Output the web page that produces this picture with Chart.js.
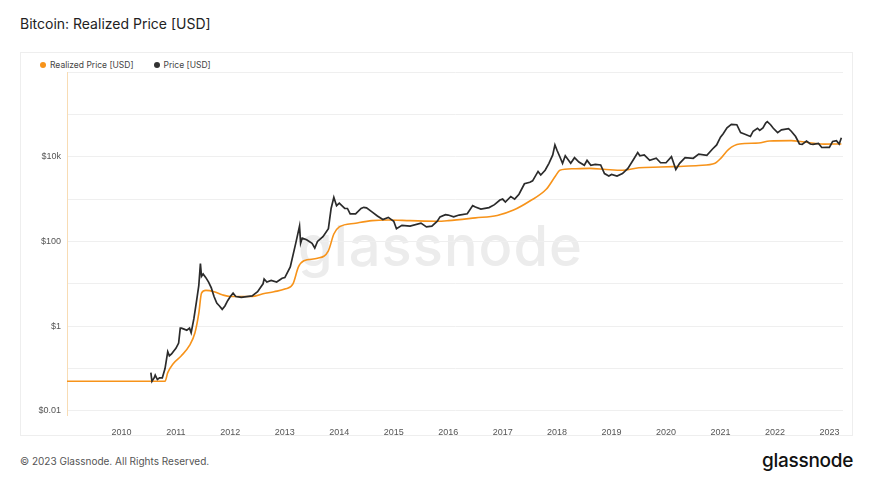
<!DOCTYPE html>
<html><head><meta charset="utf-8">
<script src="https://cdn.jsdelivr.net/npm/chart.js@4"></script>
<style>
body{margin:0;width:873px;height:481px;background:#fff;font-family:Inter,"Noto Sans",sans-serif;position:relative;overflow:hidden}
#title{position:absolute;left:20px;top:15px;font-size:14px;color:#222}
#card{position:absolute;left:20px;top:52px;width:833px;height:384px;border:1px solid #eee;box-sizing:border-box}
#wm{position:absolute;left:298px;top:212px;font-size:56px;color:#ececec;font-weight:500;letter-spacing:1px}
#legend{position:absolute;left:40px;top:60px;font-size:8.5px;color:#444}
#legend span{margin-right:20px}
.dot{display:inline-block;width:6px;height:6px;border-radius:50%;margin-right:4px;vertical-align:0}
#c{position:absolute;left:20px;top:52px}
#foot{position:absolute;left:20px;top:455px;font-size:10px;color:#555}
#logo{position:absolute;right:20px;top:449px;font-size:19px;color:#111;font-weight:500;letter-spacing:-0.3px}
</style></head><body>
<div id="title">Bitcoin: Realized Price [USD]</div>
<div id="card"></div>
<div id="wm">glassnode</div>
<div id="legend"><span><i class="dot" style="background:#f7931a"></i>Realized Price [USD]</span><span><i class="dot" style="background:#333"></i>Price [USD]</span></div>
<canvas id="c" width="833" height="384"></canvas>
<div id="foot">© 2023 Glassnode. All Rights Reserved.</div>
<div id="logo">glassnode</div>
<script>
const yearTicks=[2010,2011,2012,2013,2014,2015,2016,2017,2018,2019,2020,2021,2022,2023];
const priceT=[2010.54,2010.56,2010.6,2010.62,2010.66,2010.7,2010.75,2010.8,2010.85,2010.88,2010.92,2010.95,2011.0,2011.05,2011.08,2011.1,2011.15,2011.2,2011.25,2011.28,2011.33,2011.38,2011.42,2011.45,2011.47,2011.5,2011.55,2011.6,2011.65,2011.7,2011.75,2011.8,2011.85,2011.9,2011.95,2012.0,2012.05,2012.1,2012.15,2012.2,2012.3,2012.4,2012.5,2012.6,2012.62,2012.67,2012.75,2012.85,2012.95,2013.0,2013.1,2013.2,2013.27,2013.29,2013.32,2013.4,2013.5,2013.55,2013.6,2013.7,2013.8,2013.85,2013.9,2013.95,2014.0,2014.1,2014.15,2014.2,2014.3,2014.4,2014.45,2014.5,2014.6,2014.7,2014.8,2014.9,2015.0,2015.05,2015.15,2015.3,2015.5,2015.6,2015.7,2015.8,2015.85,2015.95,2016.0,2016.1,2016.2,2016.35,2016.45,2016.5,2016.6,2016.75,2016.85,2016.95,2017.0,2017.05,2017.15,2017.22,2017.3,2017.4,2017.5,2017.55,2017.65,2017.7,2017.78,2017.85,2017.92,2017.96,2018.0,2018.05,2018.1,2018.15,2018.25,2018.32,2018.4,2018.5,2018.55,2018.62,2018.7,2018.8,2018.87,2018.95,2019.0,2019.1,2019.2,2019.3,2019.4,2019.48,2019.52,2019.6,2019.7,2019.82,2019.9,2020.0,2020.1,2020.18,2020.25,2020.35,2020.5,2020.6,2020.75,2020.85,2020.93,2021.0,2021.05,2021.12,2021.2,2021.3,2021.37,2021.45,2021.55,2021.6,2021.68,2021.72,2021.78,2021.83,2021.86,2021.92,2021.97,2022.05,2022.12,2022.25,2022.3,2022.38,2022.45,2022.5,2022.58,2022.65,2022.7,2022.8,2022.86,2022.95,2023.0,2023.06,2023.13,2023.18,2023.22];
const priceV=[0.08,0.05,0.06,0.07,0.055,0.06,0.06,0.1,0.25,0.2,0.22,0.25,0.3,0.4,0.9,0.9,0.85,0.8,0.9,0.7,1.5,4,9,30,15,17,14,11,8,5,3.5,3,2.5,3,4,5,6,5,4.9,4.8,5,5.2,6.5,10,13,11,12,11,13.5,14,25,90,230,90,120,110,90,70,100,130,200,600,1100,700,800,600,600,450,450,600,640,620,500,400,330,370,300,200,240,230,270,220,230,300,380,430,420,380,420,450,700,650,580,630,740,950,1000,850,1150,1000,1300,2300,2500,2700,4500,3700,4800,7000,11000,19000,14000,10000,7000,10500,7000,9500,7500,6300,8200,6300,6600,6400,4000,3500,3800,3500,4000,5300,8500,12500,10500,11000,8200,9200,7200,7200,10000,5000,7000,9500,9200,11500,10800,15000,19000,29000,35000,48000,58000,57000,37000,34000,30000,40000,47000,42000,48000,62000,67000,57000,47000,37000,43000,46000,40000,30000,20000,19500,23500,20000,19500,20500,16500,16600,16600,23000,24000,20000,28000];
const realT=[2009.0,2010.8,2010.85,2010.95,2011.1,2011.25,2011.35,2011.42,2011.47,2011.55,2011.7,2011.85,2012.0,2012.4,2012.6,2012.8,2013.0,2013.15,2013.25,2013.35,2013.6,2013.8,2013.9,2014.0,2014.3,2014.6,2014.9,2015.3,2015.8,2016.0,2016.5,2016.9,2017.2,2017.5,2017.8,2017.97,2018.05,2018.3,2018.6,2018.9,2019.2,2019.5,2019.9,2020.2,2020.6,2020.9,2021.0,2021.15,2021.35,2021.7,2021.9,2022.3,2022.5,2022.9,2023.22];
const realV=[0.05,0.05,0.08,0.13,0.2,0.35,0.7,2,6,7,6.5,5.5,5,5,5.8,6.5,7.5,10,25,35,40,60,150,220,270,310,320,310,300,310,360,410,550,900,1700,3500,4800,5200,5300,5000,4800,5500,5700,5900,6200,7000,9000,15000,20000,21000,23500,24000,22500,19800,20000];
const pts=(t,v)=>t.map((x,i)=>({x,y:v[i]}));
const labels={'-2':'$0.01','0':'$1','2':'$100','4':'$10k'};
new Chart(document.getElementById('c'),{type:'line',
data:{datasets:[
{data:pts(priceT,priceV),borderColor:'#2b2b2b',borderWidth:1.7,pointRadius:0,tension:0},
{data:pts(realT,realV),borderColor:'#f7931a',borderWidth:1.6,pointRadius:0,cubicInterpolationMode:'monotone'}]},
options:{responsive:false,animation:false,layout:{padding:{top:20,right:10,left:0,bottom:0}},
plugins:{legend:{display:false},tooltip:{enabled:false}},
scales:{
x:{type:'linear',min:2009,max:2023.25,afterBuildTicks:a=>{a.ticks=yearTicks.map(v=>({value:v}))},
 ticks:{callback:v=>String(v),color:'#555',font:{size:9},maxRotation:0,padding:4},grid:{display:false},border:{display:false},afterFit:a=>{a.height=21}},
y:{type:'logarithmic',min:0.008,max:1e6,afterBuildTicks:a=>{a.ticks=[-2,-1,0,1,2,3,4,5,6].map(e=>({value:Math.pow(10,e)}))},
 ticks:{callback:v=>labels[String(Math.round(Math.log10(v)))]||'',color:'#555',font:{size:9},padding:6},
 grid:{color:'#efefef',drawTicks:false},border:{display:true,color:'#f8dcb4'},afterFit:a=>{a.width=47}}
}}});
</script></body></html>
